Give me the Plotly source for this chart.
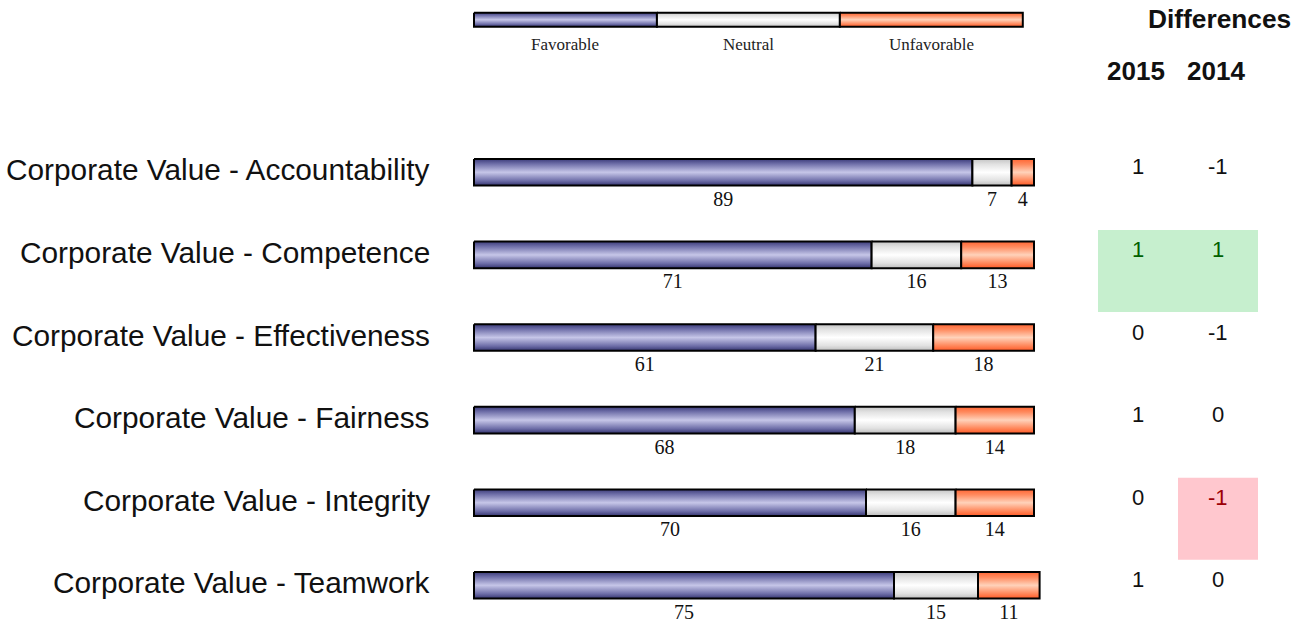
import plotly.graph_objects as go

# ---- data -------------------------------------------------------------
categories = [
    "Corporate Value - Accountability",
    "Corporate Value - Competence",
    "Corporate Value - Effectiveness",
    "Corporate Value - Fairness",
    "Corporate Value - Integrity",
    "Corporate Value - Teamwork",
]
favorable = [89, 71, 61, 68, 70, 75]
neutral = [7, 16, 21, 18, 16, 15]
unfavorable = [4, 13, 18, 14, 14, 11]

diff_2015 = [1, 1, 0, 1, 0, 1]
diff_2014 = [-1, 1, -1, 0, -1, 0]
# significance flags: 1 = significant gain, -1 = significant loss, 0 = none
sig_2015 = [0, 1, 0, 0, 0, 0]
sig_2014 = [0, 1, 0, 0, -1, 0]

legend_labels = ["Favorable", "Neutral", "Unfavorable"]
year_labels = ["2015", "2014"]

# ---- layout constants --------------------------------------------------
W, H = 1311, 624
ROW0_PX, ROW_STEP = 172.3, 82.6          # centre of first row / row spacing (px)
BAR_HALF = 13.3 / ROW_STEP               # half bar height in row units
LEG_Y = (19.7 - ROW0_PX) / ROW_STEP      # legend bar centre
LEG_HALF = 7.0 / ROW_STEP
LEG_SPAN = 98.0                          # legend strip length in axis units
X0_PX, X100_PX = 474, 1034               # pixel positions of 0 % and 100 %
PAD_L, PAD_R = 10, 30                    # extra plot room so borders are not clipped

PX_PER_UNIT = (X100_PX - X0_PX) / 100.0
X_RANGE = [-PAD_L / PX_PER_UNIT, 100 + PAD_R / PX_PER_UNIT]
X_DOMAIN = [(X0_PX - PAD_L) / W, (X100_PX + PAD_R) / W]


def px_to_row(px):
    return (px - ROW0_PX) / ROW_STEP


seg_scales = {
    "Favorable": [[0, "#34346f"], [0.18, "#6e6ea8"], [0.5, "#c6c6e8"], [0.82, "#6e6ea8"], [1, "#3c3c7a"]],
    "Neutral": [[0, "#bdbdbd"], [0.2, "#e2e2e2"], [0.5, "#ffffff"], [0.8, "#e2e2e2"], [1, "#c4c4c4"]],
    "Unfavorable": [[0, "#ff5a26"], [0.2, "#ff8a5e"], [0.5, "#ffd2ba"], [0.8, "#ff8a5e"], [1, "#ff6634"]],
}

SERIF = "Liberation Serif, Times New Roman, serif"
SANS = "Liberation Sans, Arial, sans-serif"

fig = go.Figure()


def add_segment(x0, x1, yc, half, kind):
    fig.add_trace(go.Scatter(
        x=[x0, x1, x1, x0, x0],
        y=[yc - half, yc - half, yc + half, yc + half, yc - half],
        mode="lines",
        fill="toself",
        fillgradient=dict(type="vertical", colorscale=seg_scales[kind]),
        line=dict(color="black", width=2),
        hoverinfo="skip",
        showlegend=False,
    ))


# stacked bars + value labels
lab_x, lab_y, lab_t = [], [], []
for i in range(len(categories)):
    start = 0
    for kind, vals in zip(legend_labels, (favorable, neutral, unfavorable)):
        v = vals[i]
        add_segment(start, start + v, i, BAR_HALF, kind)
        lab_x.append(start + v / 2)
        lab_y.append(i + 28.5 / ROW_STEP)
        lab_t.append(str(v))
        start += v

fig.add_trace(go.Scatter(
    x=lab_x, y=lab_y, text=lab_t, mode="text",
    textfont=dict(family=SERIF, size=20, color="#111"),
    hoverinfo="skip", showlegend=False,
))

# legend strip
seg_w = LEG_SPAN / len(legend_labels)
for k, name in enumerate(legend_labels):
    add_segment(k * seg_w, (k + 1) * seg_w, LEG_Y, LEG_HALF, name)
    fig.add_annotation(
        x=(k + 0.5) * seg_w, y=px_to_row(44.5), xref="x", yref="y",
        text=name, showarrow=False, xanchor="center", yanchor="middle",
        font=dict(family=SERIF, size=17, color="#222"),
    )

# category labels
for i, cat in enumerate(categories):
    fig.add_annotation(
        x=432 / W, y=i - 2.5 / ROW_STEP, xref="paper", yref="y",
        text=cat, showarrow=False, xanchor="right", yanchor="middle",
        font=dict(family=SANS, size=29.8, color="#111"),
    )

# differences table
COL_L = [1098, 1178]
COL_W = 80
fig.add_annotation(x=1219 / W, y=1 - 19 / H, xref="paper", yref="paper",
                   text="<b>Differences</b>", showarrow=False,
                   xanchor="center", yanchor="middle",
                   font=dict(family=SANS, size=26.3, color="#111"))
for c, yr in enumerate(year_labels):
    fig.add_annotation(x=(COL_L[c] + COL_W / 2 - 2) / W, y=1 - 71 / H, xref="paper", yref="paper",
                       text=f"<b>{yr}</b>", showarrow=False,
                       xanchor="center", yanchor="middle",
                       font=dict(family=SANS, size=26, color="#111"))

for i in range(len(categories)):
    for c, (vals, sig) in enumerate(((diff_2015, sig_2015), (diff_2014, sig_2014))):
        color = "#111"
        if sig[i] != 0:
            fill = "#c6efce" if sig[i] > 0 else "#ffc7ce"
            color = "#006100" if sig[i] > 0 else "#9c0006"
            fig.add_shape(type="rect", xref="paper", yref="y",
                          x0=COL_L[c] / W, x1=(COL_L[c] + COL_W) / W,
                          y0=i - 25 / ROW_STEP, y1=i + 57 / ROW_STEP,
                          fillcolor=fill, line=dict(width=0), layer="below")
        fig.add_annotation(x=(COL_L[c] + COL_W / 2) / W, y=i - 5.5 / ROW_STEP,
                           xref="paper", yref="y", text=str(vals[i]), showarrow=False,
                           xanchor="center", yanchor="middle",
                           font=dict(family=SANS, size=22, color=color))

fig.update_layout(
    width=W, height=H,
    margin=dict(l=0, r=0, t=0, b=0),
    paper_bgcolor="white", plot_bgcolor="rgba(0,0,0,0)",
    showlegend=False, hovermode=False,
    xaxis=dict(domain=X_DOMAIN, range=X_RANGE, visible=False, fixedrange=True),
    yaxis=dict(domain=[0, 1], range=[(H - ROW0_PX) / ROW_STEP, -ROW0_PX / ROW_STEP],
               visible=False, fixedrange=True),
)

fig.write_html("out.html", config={"displayModeBar": False})
